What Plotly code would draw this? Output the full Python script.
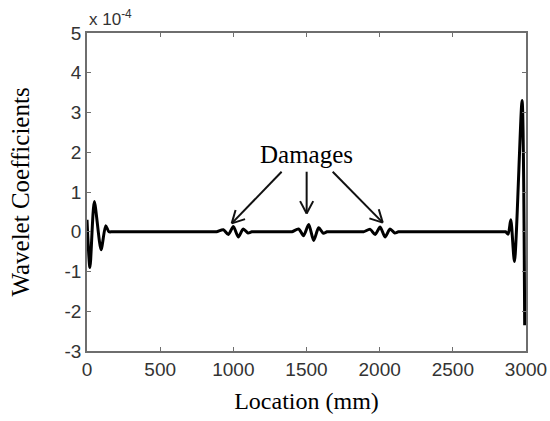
import math
import plotly.graph_objects as go

# Data (wavelet coefficients in units of 1e-4)
location_mm = [0, 20, 50, 96, 128, 150, 175,
               860, 886, 932, 966, 1000, 1034, 1068, 1100, 1126, 1150,
               1375, 1400, 1446, 1480, 1515, 1549, 1583, 1615, 1640, 1665,
               1865, 1890, 1935, 1969, 2003, 2037, 2071, 2103, 2128, 2150,
               2835, 2860, 2878, 2896, 2921, 2973, 2991]
coef_e4 = [0.3, -0.9, 0.76, -0.45, 0.15, 0.0, 0.0,
           0.0, 0.0, 0.05, -0.07, 0.13, -0.13, 0.07, -0.03, 0.0, 0.0,
           0.0, 0.0, 0.07, -0.10, 0.18, -0.22, 0.10, -0.04, 0.0, 0.0,
           0.0, 0.0, 0.06, -0.07, 0.12, -0.13, 0.07, -0.03, 0.0, 0.0,
           0.0, 0.0, -0.06, 0.30, -0.75, 3.30, -2.35]

x_ticks = [0, 500, 1000, 1500, 2000, 2500, 3000]
y_ticks = [-3, -2, -1, 0, 1, 2, 3, 4, 5]

# arrows: head and tail positions in data units
arrow_heads = [(989, 0.21), (1501, 0.46), (2021, 0.23)]
arrow_tails = [(1330, 1.51), (1501, 1.51), (1679, 1.51)]

fig = go.Figure()
fig.add_trace(go.Scatter(x=location_mm, y=coef_e4, mode="lines",
                         line=dict(color="black", width=3, shape="spline", smoothing=0.7),
                         showlegend=False, hoverinfo="skip", cliponaxis=False))

axis_common = dict(showgrid=False, zeroline=False, showline=True, linecolor="#6e6e6e",
                   linewidth=1.5, mirror="ticks", ticks="inside", ticklen=4,
                   tickcolor="#6e6e6e", tickwidth=1, automargin=False,
                   tickfont=dict(family="Liberation Sans, Arial", size=19, color="#333333"))

fig.update_xaxes(range=[0, 3000], tickvals=x_ticks, ticktext=[str(v) for v in x_ticks],
                 title=dict(text="Location (mm)", font=dict(family="Liberation Serif, Times New Roman",
                                                            size=24, color="black"), standoff=14),
                 **axis_common)
fig.update_yaxes(range=[-3, 5], tickvals=y_ticks, ticktext=[str(v) for v in y_ticks],
                 title=dict(text="Wavelet Coefficients", font=dict(family="Liberation Serif, Times New Roman",
                                                                   size=25, color="black"), standoff=28),
                 **axis_common)

W, H = 550, 421
ml, mr, mt, mb = 87, 24, 33, 70
pw, ph = W - ml - mr, H - mt - mb
sx = pw / 3000.0   # px per mm
sy = ph / 8.0      # px per unit

shapes = []
line_style = dict(color="#111111", width=2)
for (hx, hy), (tx, ty) in zip(arrow_heads, arrow_tails):
    shapes.append(dict(type="line", xref="x", yref="y", x0=hx, y0=hy, x1=tx, y1=ty, line=line_style))
    dx = (tx - hx) * sx
    dy = (ty - hy) * sy
    L = math.hypot(dx, dy)
    ux, uy = dx / L, dy / L
    for sgn in (1, -1):
        a = math.radians(28) * sgn
        wx = (ux * math.cos(a) - uy * math.sin(a)) * 14
        wy = (ux * math.sin(a) + uy * math.cos(a)) * 14
        shapes.append(dict(type="line", xref="x", yref="y", x0=hx, y0=hy,
                           x1=hx + wx / sx, y1=hy + wy / sy, line=line_style))

ann = [
    dict(x=1501, y=1.95, xref="x", yref="y", text="Damages", showarrow=False,
         font=dict(family="Liberation Serif, Times New Roman", size=25, color="black")),
    dict(x=0, y=1, xref="paper", yref="paper", xanchor="left", yanchor="bottom", yshift=2,
         text="x 10<sup>-4</sup>", showarrow=False,
         font=dict(family="Liberation Sans, Arial", size=17, color="#333333")),
]

fig.update_layout(width=W, height=H, margin=dict(l=ml, r=mr, t=mt, b=mb, autoexpand=False),
                  plot_bgcolor="white", paper_bgcolor="white", annotations=ann, shapes=shapes)

fig.write_html("out.html")
